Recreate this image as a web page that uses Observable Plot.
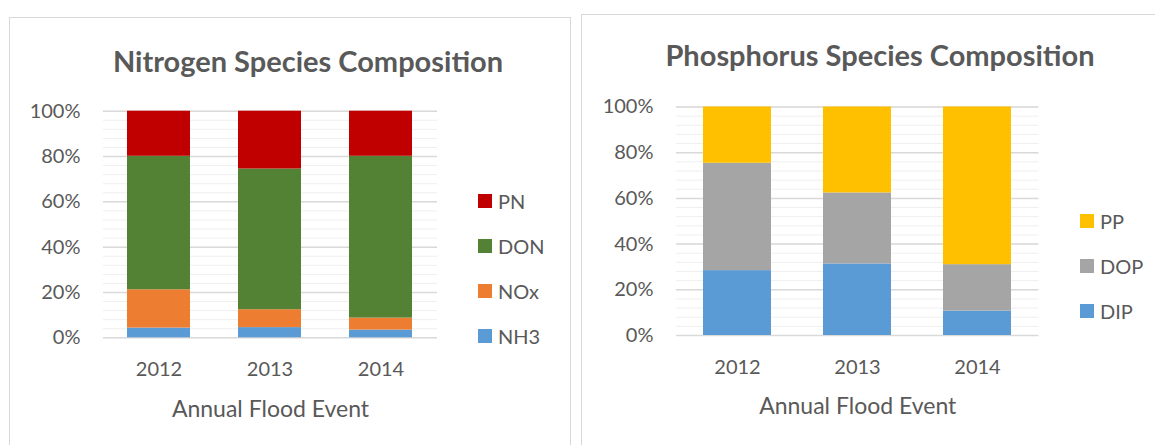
<!DOCTYPE html>
<html>
<head>
<meta charset="utf-8">
<script src="https://cdn.jsdelivr.net/npm/d3@7"></script>
<script src="https://cdn.jsdelivr.net/npm/@observablehq/plot@0.6"></script>
<style>
  html, body { margin: 0; padding: 0; background: #fff; }
  body { width: 1155px; height: 445px; overflow: hidden; position: relative; font-family: Lato, "Open Sans", sans-serif; color: #595959; }
  .panel { position: absolute; border: 1.5px solid #d9d9d9; background: #fff; box-sizing: border-box; }
  .chart { position: absolute; top: 0; }
  .title { position: absolute; font-weight: bold; font-size: 29px; white-space: nowrap; transform: translateX(-50%); line-height: 1; color: #595959; }
  .legend { position: absolute; font-size: 20px; color: #595959; }
  .legend .item { position: absolute; display: flex; align-items: center; white-space: nowrap; transform: translateY(-50%); line-height: 1; }
  .legend .sw { width: 14px; height: 14px; margin-right: 6px; }
</style>
</head>
<body>
<script>
// ---- data ----
const years = ["2012", "2013", "2014"];

const nitrogenSpecies = ["NH3", "NOx", "DON", "PN"]; // bottom -> top
const nh3 = [4.3, 4.5, 3.4];
const nox = [16.9, 7.9, 5.3];
const don = [58.9, 62.1, 71.4];
const pn  = [19.9, 25.5, 19.9];
const nitrogenColors = ["#5b9bd5", "#ed7d31", "#548235", "#c00000"];

const phosphorusSpecies = ["DIP", "DOP", "PP"]; // bottom -> top
const dip = [28.4, 31.3, 10.7];
const dop = [47.0, 31.1, 20.3];
const pp  = [24.6, 37.6, 69.0];
const phosphorusColors = ["#5b9bd5", "#a5a5a5", "#ffc000"];

const yTicks = [0, 20, 40, 60, 80, 100];
const xTitle = "Annual Flood Event";

function table(species, series) {
  const rows = [];
  species.forEach((s, i) => years.forEach((y, j) => rows.push({year: y, species: s, value: series[i][j]})));
  return rows;
}

function makeChart({rows, species, colors, width, mLeft, mRight, mTop, mBottom, titleDy}) {
  const minor = d3.range(0, 101, 4);
  return Plot.plot({
    width, height: 445,
    marginLeft: mLeft, marginRight: mRight, marginTop: mTop, marginBottom: mBottom,
    style: {background: "transparent", fontFamily: "Lato, 'Open Sans', sans-serif", color: "#595959"},
    x: {domain: years, paddingInner: 0.43, paddingOuter: 0.215, label: null},
    y: {domain: [0, 100], label: null},
    color: {domain: species, range: colors},
    marks: [
      Plot.ruleY(minor, {stroke: "#efefef", strokeWidth: 1}),
      Plot.ruleY(yTicks, {stroke: "#d9d9d9", strokeWidth: 1.5}),
      Plot.barY(rows, Plot.stackY({order: species}, {x: "year", y: "value", z: "species", fill: "species"})),
      Plot.axisY(yTicks, {tickSize: 0, tickPadding: 23, tickFormat: d => d + "%", fontSize: 20, label: null}),
      Plot.axisX({tickSize: 0, tickPadding: 24, fontSize: 20, label: null}),
      Plot.text([xTitle], {frameAnchor: "bottom", lineAnchor: "bottom", dy: titleDy, fontSize: 23, fill: "#595959"})
    ]
  });
}

function addLegend(species, colors, x, centers) {
  const lg = document.createElement("div");
  lg.className = "legend";
  lg.style.left = x + "px";
  lg.style.top = "0px";
  const order = species.slice().reverse();
  const cols = colors.slice().reverse();
  order.forEach((s, i) => {
    const it = document.createElement("div");
    it.className = "item";
    it.style.top = centers[i] + "px";
    const sw = document.createElement("div");
    sw.className = "sw";
    sw.style.background = cols[i];
    const t = document.createElement("span");
    t.textContent = s;
    it.appendChild(sw); it.appendChild(t);
    lg.appendChild(it);
  });
  document.body.appendChild(lg);
}

function addDiv(cls, styles, text) {
  const d = document.createElement("div");
  d.className = cls;
  Object.assign(d.style, styles);
  if (text) d.textContent = text;
  document.body.appendChild(d);
  return d;
}

// panels (borders)
addDiv("panel", {left: "9px", top: "17px", width: "562px", height: "460px"});
addDiv("panel", {left: "581px", top: "14px", width: "620px", height: "460px"});

// Nitrogen chart
const c1 = makeChart({
  rows: table(nitrogenSpecies, [nh3, nox, don, pn]),
  species: nitrogenSpecies, colors: nitrogenColors,
  width: 570, mLeft: 103, mRight: 133, mTop: 110.7, mBottom: 107.7, titleDy: 78.7
});
c1.classList.add("chart");
c1.style.left = "0px";
document.body.appendChild(c1);

// Phosphorus chart
const c2 = makeChart({
  rows: table(phosphorusSpecies, [dip, dop, pp]),
  species: phosphorusSpecies, colors: phosphorusColors,
  width: 580, mLeft: 101, mRight: 116.5, mTop: 106.5, mBottom: 110, titleDy: 78
});
c2.classList.add("chart");
c2.style.left = "575px";
document.body.appendChild(c2);

// titles
addDiv("title", {left: "308px", top: "46px"}, "Nitrogen Species Composition");
addDiv("title", {left: "880px", top: "40px"}, "Phosphorus Species Composition");

// legends
addLegend(nitrogenSpecies, nitrogenColors, 478, [201, 246, 291, 336]);
addLegend(phosphorusSpecies, phosphorusColors, 1080, [221, 266, 311]);
</script>
</body>
</html>
